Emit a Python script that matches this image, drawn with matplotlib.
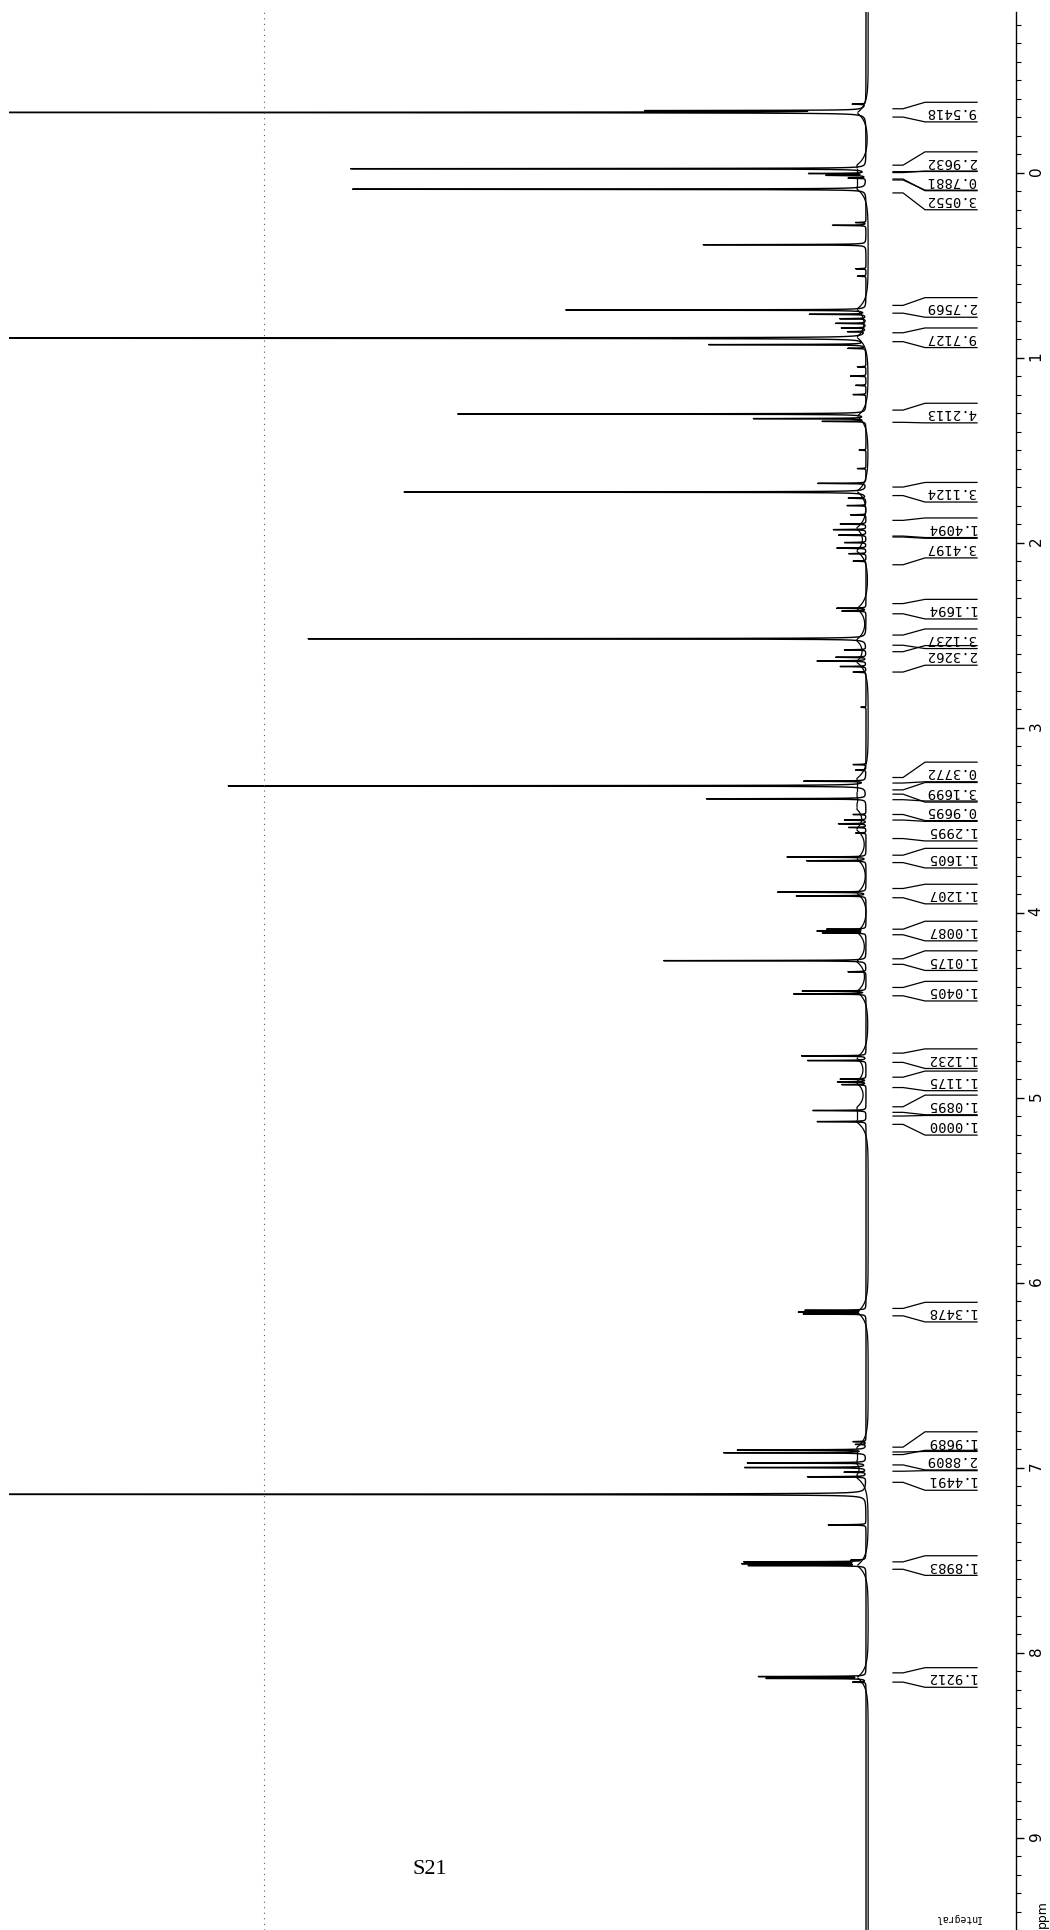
import numpy as np
import matplotlib
matplotlib.use('Agg')
import matplotlib.pyplot as plt
from matplotlib.ticker import MultipleLocator, FuncFormatter

# --- peak list (ppm, relative height; >100 is off scale) ---
peak_ppm = [-0.37, -0.335, -0.325, -0.021, 0.005, 0.015, 0.03, 0.09, 0.27, 0.285,
            0.39, 0.52, 0.56, 0.743, 0.766, 0.79, 0.815, 0.84, 0.86, 0.895,
            0.93, 0.95, 1.05, 1.10, 1.15, 1.20, 1.305, 1.33, 1.345, 1.50,
            1.60, 1.68, 1.727, 1.76, 1.80, 1.85, 1.90, 1.93, 1.96, 2.00,
            2.03, 2.06, 2.10, 2.355, 2.37, 2.52, 2.58, 2.62, 2.64, 2.67,
            2.70, 2.89, 3.20, 3.23, 3.29, 3.315, 3.385, 3.47, 3.50, 3.52,
            3.54, 3.57, 3.70, 3.72, 3.89, 3.91, 4.09, 4.10, 4.11, 4.26,
            4.32, 4.425, 4.44, 4.775, 4.80, 4.90, 4.915, 4.93, 5.07, 5.13,
            6.15, 6.16, 6.17, 6.86, 6.875, 6.905, 6.92, 6.975, 7.00, 7.025,
            7.05, 7.145, 7.31, 7.50, 7.51, 7.52, 7.53, 8.13, 8.14, 8.16]
peak_int = [1.5, 24.0, 130.0, 60.1, 6.5, 4.5, 2.0, 59.9, 1.2, 3.9,
            19.0, 1.2, 1.0, 35.0, 6.5, 3.0, 3.5, 2.8, 2.0, 130.0,
            18.2, 2.0, 1.0, 1.8, 1.2, 1.5, 47.6, 13.0, 5.0, 0.8,
            1.0, 5.6, 53.9, 2.0, 2.2, 1.8, 3.0, 3.8, 3.2, 2.5,
            3.4, 2.0, 1.5, 3.4, 2.8, 65.1, 2.5, 3.5, 5.7, 3.0,
            1.5, 0.6, 1.5, 1.2, 7.1, 74.4, 18.6, 1.5, 2.5, 3.2,
            2.0, 1.2, 9.2, 6.9, 10.3, 8.1, 4.5, 5.6, 5.0, 23.6,
            2.1, 7.4, 8.4, 7.5, 6.8, 3.0, 3.3, 2.8, 6.2, 5.7,
            7.0, 7.7, 7.2, 1.5, 1.2, 14.9, 16.5, 13.8, 14.1, 2.5,
            6.8, 130.0, 4.4, 1.5, 14.0, 14.1, 13.5, 12.4, 11.5, 1.5]

# --- integrals: printed value, region start/end (ppm), label centre (ppm) ---
int_values = ['9.5418', '2.9632', '0.7881', '3.0552', '2.7569', '9.7127', '4.2113',
              '3.1124', '1.4094', '3.4197', '1.1694', '3.1237', '2.3262', '0.3772',
              '3.1699', '0.9695', '1.2995', '1.1605', '1.1207', '1.0087', '1.0175',
              '1.0405', '1.1232', '1.1175', '1.0895', '1.0000', '1.3478', '1.9689',
              '2.8809', '1.4491', '1.8983', '1.9212']
int_start = [-0.345, -0.04, 0.0, 0.04, 0.718, 0.866, 1.284, 1.70, 1.88, 1.97, 2.33,
             2.50, 2.59, 3.27, 3.337, 3.39, 3.50, 3.69, 3.87, 4.09, 4.25, 4.405,
             4.76, 4.89, 5.05, 5.10, 6.14, 6.89, 6.93, 7.02, 7.51, 8.11]
int_end = [-0.30, -0.005, 0.035, 0.11, 0.76, 0.914, 1.35, 1.746, 1.965, 2.12, 2.385,
           2.555, 2.70, 3.30, 3.36, 3.47, 3.60, 3.73, 3.92, 4.12, 4.28, 4.45,
           4.81, 4.946, 5.08, 5.145, 6.18, 6.916, 6.986, 7.08, 7.55, 8.16]
label_pos = [-0.327, -0.059, 0.045, 0.148, 0.729, 0.893, 1.30, 1.728, 1.92, 2.03, 2.36,
             2.52, 2.61, 3.24, 3.35, 3.45, 3.56, 3.706, 3.90, 4.10, 4.26, 4.425,
             4.79, 4.91, 5.04, 5.15, 6.16, 6.86, 6.96, 7.07, 7.53, 8.135]

ppm_top, ppm_bottom = -0.868, 9.50
x_left, x_right = 100.0, -17.5


def px(x):
    # horizontal page position (pixels) -> intensity units of the plot
    return (866 - x) / 8.57


# spectrum as a sum of narrow lorentzians
grid = np.sort(np.concatenate([np.linspace(ppm_top, ppm_bottom, 60000), peak_ppm]))
g = 0.0012
spec = np.zeros_like(grid)
for c, h in zip(peak_ppm, peak_int):
    spec += h * g**2 / ((grid - c)**2 + g**2)

fig = plt.figure(figsize=(10.5, 19.3), dpi=100)
ax = fig.add_axes([9 / 1050, 0, (1016 - 9) / 1050, (1930 - 12) / 1930])

ax.plot(spec, grid, color='black', lw=1.0)

# integral trace: small curls towards each integrated region
centres = np.array([(s + e) / 2 for s, e in zip(int_start, int_end)])
bounds = np.concatenate([[ppm_top], centres, [ppm_bottom]])
for a, b in zip(bounds[:-1], bounds[1:]):
    yy = np.linspace(a + 0.004, b - 0.004, 200)
    off = np.zeros_like(yy)
    for c in centres:
        off += np.exp(-np.abs(yy - c) / 0.045)
    off = np.clip(off, 0, 1)
    ax.plot(-0.25 + 1.3 * off, yy, color='black', lw=0.9)

# integral labels with their leader lines
for val, s, e, c in zip(int_values, int_start, int_end, label_pos):
    top, bot = c - 0.053, c + 0.053
    ax.plot([px(893), px(903), px(925), px(977)], [s, s, top, top], color='black', lw=0.9)
    ax.plot([px(893), px(903), px(925), px(977)], [e, e, bot, bot], color='black', lw=0.9)
    ax.text(px(951), c, val, rotation=180, ha='center', va='center',
            family='DejaVu Sans Mono', fontsize=10)

# faint dotted line running down the page
ax.axvline(px(264), color='0.35', lw=0.8, ls=(0, (1, 4)))

ax.set_xlim(x_left, x_right)
ax.set_ylim(ppm_bottom, ppm_top)
for side in ['left', 'top', 'bottom']:
    ax.spines[side].set_visible(False)
ax.spines['right'].set_linewidth(1.0)
ax.set_xticks([])
ax.yaxis.tick_right()
ax.yaxis.set_major_locator(MultipleLocator(1))
ax.yaxis.set_minor_locator(MultipleLocator(0.1))
ax.yaxis.set_major_formatter(FuncFormatter(lambda v, p: f'{v:.0f}'))
ax.tick_params(axis='y', which='major', length=6, width=1, direction='out',
               labelsize=11, labelrotation=90, pad=3)
ax.tick_params(axis='y', which='minor', length=3.5, width=0.8, direction='out')

fig.text(1042 / 1050, 1 - 1914 / 1930, 'ppm', rotation=90, ha='center', va='center', fontsize=9)
fig.text(957 / 1050, 1 - 1918 / 1930, 'Integral', rotation=180, ha='center', va='center',
         family='DejaVu Sans Mono', fontsize=7)
fig.text(430 / 1050, 1 - 1870 / 1930, 'S21', ha='center', va='center', fontsize=16,
         family=['Liberation Serif', 'DejaVu Serif'])

fig.savefig('out.png', dpi=100)
